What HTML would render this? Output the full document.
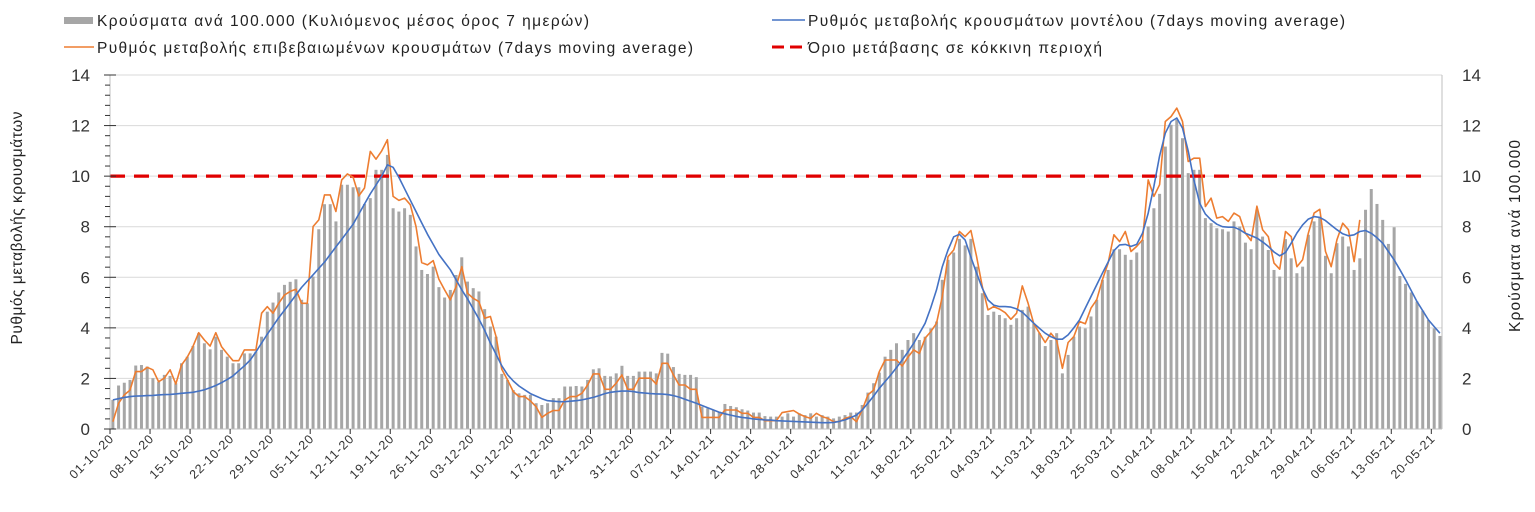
<!DOCTYPE html>
<html><head><meta charset="utf-8">
<style>
html,body{margin:0;padding:0;background:#fff;}
svg{display:block;font-family:"Liberation Sans","DejaVu Sans",sans-serif;}
</style></head>
<body>
<svg id="chart" width="1535" height="512" viewBox="0 0 1535 512" xmlns="http://www.w3.org/2000/svg">
<g font-size="15.5" fill="#222">
  <g>
    <rect x="64" y="17" width="29" height="7" fill="#a6a6a6"></rect>
    <text x="97" y="26" textLength="492" lengthAdjust="spacing">Κρούσματα ανά 100.000 (Κυλιόμενος μέσος όρος 7 ημερών)</text>
  </g>
  <g>
    <line x1="772" y1="20" x2="805" y2="20" stroke="#4472c4" stroke-width="1.5"></line>
    <text x="808" y="26" textLength="537" lengthAdjust="spacing">Ρυθμός μεταβολής κρουσμάτων μοντέλου (7days moving average)</text>
  </g>
  <g>
    <line x1="64" y1="47" x2="94" y2="47" stroke="#ed7d31" stroke-width="1.5"></line>
    <text x="97" y="53" textLength="596" lengthAdjust="spacing">Ρυθμός μεταβολής επιβεβαιωμένων κρουσμάτων (7days moving average)</text>
  </g>
  <g>
    <line x1="772" y1="47" x2="805" y2="47" stroke="#e00000" stroke-width="3" stroke-dasharray="12,6"></line>
    <text x="808" y="53" textLength="294" lengthAdjust="spacing">Όριο μετάβασης σε κόκκινη περιοχή</text>
  </g>
</g>
<g id="grid"></g>
<g id="bars"></g>
<g id="lines"></g>
<g id="axes"></g>
<text font-size="15.5" fill="#222" text-anchor="middle" textLength="233" lengthAdjust="spacing" transform="translate(22,228) rotate(-90)">Ρυθμός μεταβολής κρουσμάτων</text>
<text font-size="15.5" fill="#222" text-anchor="middle" textLength="192" lengthAdjust="spacing" transform="translate(1520,236) rotate(-90)">Κρούσματα ανά 100.000</text>
</svg>
<script>
const cases = [1.15,1.72,1.83,1.94,2.51,2.53,2.47,2.01,1.87,2.14,2.10,1.81,2.60,2.86,3.28,3.79,3.39,3.15,3.65,3.13,2.86,2.60,2.60,2.99,2.99,3.06,3.65,4.64,5.00,5.40,5.70,5.82,5.92,5.11,4.97,6.03,7.90,8.89,8.89,8.21,9.66,9.66,9.56,9.56,8.90,9.13,10.25,10.25,10.84,8.73,8.60,8.73,8.47,7.22,6.29,6.13,6.42,5.61,5.20,5.50,
6.09,6.79,5.83,5.57,5.44,4.74,4.05,3.65,2.18,1.94,1.54,1.41,1.35,1.35,1.02,0.95,1.02,1.22,1.22,1.68,1.68,1.70,1.68,1.94,2.36,2.40,2.10,2.08,2.20,2.50,2.10,2.10,2.27,2.27,2.27,2.20,3.01,2.98,2.45,2.18,2.14,2.14,2.05,0.88,0.82,0.75,0.69,0.99,0.91,0.86,0.78,0.73,0.65,0.65,0.51,0.49,0.49,0.49,0.62,
0.49,0.62,0.55,0.62,0.49,0.55,0.49,0.42,0.49,0.55,0.65,0.65,0.95,1.44,1.81,2.23,2.86,3.13,3.39,3.13,3.52,3.79,3.52,3.65,3.98,4.25,5.90,6.69,6.98,7.52,7.26,7.52,6.42,5.37,4.51,4.64,4.51,4.38,4.12,4.38,4.71,4.84,4.18,3.79,3.28,3.52,3.79,2.20,2.93,3.65,4.05,3.98,4.45,5.11,5.90,6.29,7.11,7.11,6.89,
6.69,6.98,7.48,8.01,8.73,9.30,11.17,12.03,12.23,11.50,10.12,10.25,10.25,8.34,8.14,7.94,7.90,7.81,8.21,8.01,7.37,7.11,8.67,7.61,7.08,6.29,6.03,7.51,6.75,6.16,6.42,7.68,8.21,8.40,6.85,6.16,7.35,7.61,7.22,6.29,6.75,8.67,9.49,8.90,8.27,7.32,7.98,6.05,5.74,5.40,5.04,4.68,4.31,3.98,3.68];
const confirmedRate = [0.29,1.02,1.35,1.54,2.27,2.27,2.44,2.34,1.87,2.01,2.34,1.78,2.53,2.84,3.26,3.81,3.52,3.28,3.81,3.26,2.97,2.70,2.70,3.13,3.13,3.13,4.58,4.84,4.58,4.97,5.30,5.44,5.53,4.97,4.97,8.01,8.27,9.26,9.26,8.60,9.85,10.09,9.96,9.22,9.53,10.98,10.67,11.00,11.44,9.20,9.04,9.13,8.87,8.01,6.58,6.49,6.66,5.92,5.50,5.11,
5.63,6.42,5.37,5.17,5.04,4.38,4.45,3.65,2.36,1.94,1.48,1.28,1.28,1.11,0.88,0.46,0.62,0.73,0.73,1.15,1.28,1.28,1.41,1.74,2.18,2.18,1.57,1.57,1.81,2.14,1.57,1.57,2.01,2.01,2.01,1.78,2.60,2.60,2.14,1.74,1.74,1.57,1.57,0.46,0.46,0.46,0.46,0.75,0.75,0.75,0.62,0.62,0.46,0.46,0.33,0.33,0.33,0.65,0.69,
0.73,0.59,0.49,0.42,0.62,0.49,0.42,0.29,0.29,0.42,0.49,0.29,0.75,1.35,1.54,2.27,2.73,2.73,2.73,2.49,2.84,3.13,2.99,3.59,3.85,4.18,5.24,6.82,7.08,7.81,7.61,7.85,6.82,5.63,4.71,4.84,4.74,4.60,4.34,4.58,5.66,4.97,4.16,3.79,3.42,3.79,3.50,2.40,3.42,3.65,4.25,4.16,4.78,5.11,5.90,6.56,7.68,7.41,7.81,
7.02,7.22,7.48,9.85,9.20,9.66,12.16,12.36,12.69,12.16,10.58,10.71,10.71,8.80,9.13,8.34,8.40,8.21,8.54,8.40,7.74,7.45,8.81,7.88,7.61,6.56,6.32,7.81,7.61,6.42,6.69,7.74,8.54,8.69,7.02,6.42,7.48,8.14,7.88,6.62,8.27];
const modelRate = [1.15,1.2,1.25,1.28,1.3,1.31,1.32,1.33,1.35,1.36,1.37,1.39,1.41,1.43,1.45,1.5,1.55,1.63,1.72,1.83,1.96,2.1,2.3,2.5,2.72,3.05,3.4,3.75,4.07,4.4,4.7,5.0,5.3,5.6,5.85,6.1,6.35,6.6,6.9,7.2,7.5,7.8,8.1,8.5,8.9,9.3,9.65,10.0,10.45,10.35,9.95,9.5,9.05,8.6,8.15,7.7,7.3,6.9,6.6,6.3,
5.9,5.5,5.15,4.75,4.35,3.9,3.4,2.95,2.5,2.15,1.9,1.7,1.55,1.4,1.3,1.2,1.12,1.1,1.08,1.08,1.1,1.12,1.15,1.2,1.25,1.32,1.4,1.45,1.48,1.5,1.5,1.48,1.44,1.42,1.4,1.39,1.38,1.36,1.32,1.26,1.18,1.1,1.02,0.93,0.84,0.75,0.66,0.6,0.55,0.5,0.46,0.43,0.4,0.38,0.36,0.35,0.33,0.32,0.31,
0.3,0.29,0.28,0.27,0.26,0.25,0.25,0.26,0.3,0.36,0.45,0.55,0.75,1.02,1.3,1.61,1.88,2.14,2.43,2.73,3.05,3.39,3.78,4.18,4.8,5.5,6.42,7.08,7.6,7.7,7.48,6.8,6.16,5.57,5.1,4.9,4.84,4.84,4.82,4.75,4.62,4.4,4.18,3.98,3.79,3.65,3.55,3.55,3.72,4.0,4.31,4.78,5.24,5.7,6.16,6.6,7.05,7.28,7.3,
7.22,7.3,7.74,8.54,9.6,10.8,11.7,12.16,12.3,11.9,11.0,9.85,8.93,8.5,8.27,8.1,8.0,7.98,7.98,7.88,7.74,7.65,7.55,7.4,7.22,7.0,6.85,6.98,7.35,7.75,8.07,8.3,8.4,8.37,8.24,8.06,7.88,7.72,7.64,7.68,7.81,7.85,7.74,7.56,7.35,7.02,6.69,6.3,5.9,5.47,5.04,4.68,4.31,4.05,3.79];
const yTicks = [0,2,4,6,8,10,12,14];
const threshold = [10];
const xTickLabels = ["01-10-20","08-10-20","15-10-20","22-10-20","29-10-20","05-11-20","12-11-20","19-11-20","26-11-20","03-12-20","10-12-20","17-12-20","24-12-20","31-12-20","07-01-21","14-01-21","21-01-21","28-01-21","04-02-21","11-02-21","18-02-21","25-02-21","04-03-21","11-03-21","18-03-21","25-03-21","01-04-21","08-04-21","15-04-21","22-04-21","29-04-21","06-05-21","13-05-21","20-05-21"];

const NS="http://www.w3.org/2000/svg";
const X0=110, X1=1442, Y0=429, Y1=75, DAYW=5.72, YMAX=14;
function xDay(d){return X0+DAYW*d;}
function xMid(i){return X0+DAYW*(i+0.5);}
function yVal(v){return Y0-(v/YMAX)*(Y0-Y1);}
function mk(tag,attrs,parent){const e=document.createElementNS(NS,tag);for(const k in attrs)e.setAttribute(k,attrs[k]);parent.appendChild(e);return e;}

const grid=document.getElementById('grid');
yTicks.forEach(v=>{ if(v===0) return;
  const l=mk('line',{x1:X0,x2:X1,y1:yVal(v),y2:yVal(v),stroke:'#d9d9d9','stroke-width':1},grid);
  
  
});

const bars=document.getElementById('bars');
cases.forEach((v,i)=>{
  const r=mk('rect',{x:xMid(i)-1.5,y:yVal(v),width:3,height:Y0-yVal(v),fill:'#a6a6a6'},bars);
  
  
});

const lines=document.getElementById('lines');
const th=mk('line',{x1:X0,x2:1428,y1:yVal(threshold[0]),y2:yVal(threshold[0]),stroke:'#e00000','stroke-width':3.2,'stroke-dasharray':'15,9'},lines);


function poly(arr,color,name){
  const pts=arr.map((v,i)=>xMid(i).toFixed(1)+','+yVal(v).toFixed(1)).join(' ');
  const p=mk('polyline',{points:pts,fill:'none',stroke:color,'stroke-width':1.6,'stroke-linejoin':'round'},lines);
  
  
}
poly(confirmedRate,'#ed7d31','confirmed-rate-line');
poly(modelRate,'#4472c4','model-rate-line');

const axes=document.getElementById('axes');
mk('line',{x1:X0,x2:X0,y1:Y1,y2:Y0,stroke:'#bfbfbf','stroke-width':1},axes);
mk('line',{x1:X1,x2:X1,y1:Y1,y2:Y0,stroke:'#bfbfbf','stroke-width':1},axes);
mk('line',{x1:X0,x2:X1,y1:Y0,y2:Y0,stroke:'#bfbfbf','stroke-width':1},axes);
for(let k=0;k<=35;k++){
  const v=k*0.4; if(v>YMAX+0.01) break;
  const major=Math.abs(v/2-Math.round(v/2))<0.01;
  const t=mk('line',{x1:major?104:105,x2:major?116:110,y1:yVal(v),y2:yVal(v),stroke:'#333','stroke-width':1},axes);
  
  
}
yTicks.forEach(v=>{
  const a=mk('text',{x:90,y:yVal(v)+6,'text-anchor':'end','font-size':17,fill:'#333'},axes);
  a.textContent=v;
  
  
  const b=mk('text',{x:1462,y:yVal(v)+6,'text-anchor':'start','font-size':17,fill:'#333'},axes);
  b.textContent=v;
  
  
});
xTickLabels.forEach((lab,k)=>{
  const x=xDay(k*7);
  const t=mk('line',{x1:x,x2:x,y1:Y0,y2:Y0+5,stroke:'#333','stroke-width':1},axes);
  
  
  const tx=mk('text',{'text-anchor':'end','font-size':12.5,fill:'#333',textLength:'56',lengthAdjust:'spacing',transform:'translate('+(x+4)+','+(Y0+11)+') rotate(-45)'},axes);
  tx.textContent=lab;
  
  
});
</script>
</body></html>
